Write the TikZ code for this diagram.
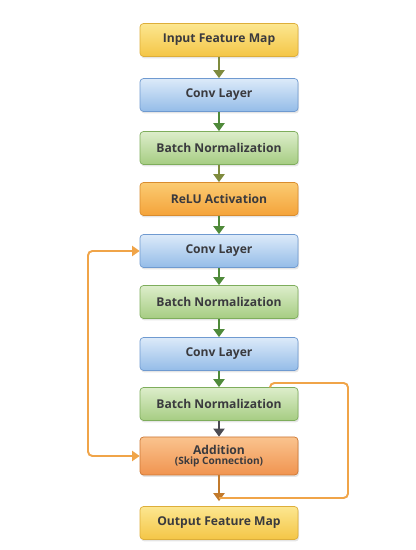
\documentclass[tikz,border=0pt]{standalone}
\usepackage{fontspec}
\setmainfont{Open Sans}
\usepackage{xcolor}
\usepackage{tikz}
\usetikzlibrary{arrows.meta}
\usetikzlibrary{positioning, shadows}
\definecolor{yellowtop}{HTML}{FCE690}
\definecolor{yellowbottom}{HTML}{F4C646}
\definecolor{yellowborder}{HTML}{DDAE3A}
\definecolor{bluetop}{HTML}{DCEAF9}
\definecolor{bluebottom}{HTML}{94BCE8}
\definecolor{blueborder}{HTML}{6F9AD0}
\definecolor{greentop}{HTML}{DDEDCB}
\definecolor{greenbottom}{HTML}{A6CD82}
\definecolor{greenborder}{HTML}{7EAD5C}
\definecolor{orangetop}{HTML}{FBCB72}
\definecolor{orangebottom}{HTML}{F4A33A}
\definecolor{orangeborder}{HTML}{D98C2E}
\definecolor{addtop}{HTML}{FAC38E}
\definecolor{addbottom}{HTML}{F09450}
\definecolor{addborder}{HTML}{CC7734}
\definecolor{textgray}{HTML}{3A3A3E}
\definecolor{olivearrow}{HTML}{7F8B3E}
\definecolor{greenarrow}{HTML}{4F8A3A}
\definecolor{grayarrow}{HTML}{4B4B52}
\definecolor{brownarrow}{HTML}{C27A2C}
\definecolor{skipline}{HTML}{F0A448}
\tikzset{
block/.style = { rectangle, draw = #1border, top color = #1top, bottom color = #1bottom, minimum width = 63.2mm, minimum height = 13.2mm, rounded corners = 4pt, line width = 0.8pt, text = textgray, font = \fontsize{13.8}{16}\selectfont\bfseries, drop shadow = {opacity = 0.2, shadow xshift = 0.4mm, shadow yshift = -0.8mm} },
flow/.style = { draw = #1, line width = 2.8pt, -{Triangle[width = 4.4mm, length = 3.2mm]} },
skip/.style = { draw = skipline, line width = 2.2pt, rounded corners = 5pt },
}

\begin{document}
\begin{tikzpicture}
      \path[use as bounding box, fill = white] (0, 0) rectangle (16.6, 22);
      \node[block = yellow] (input) at (8.76, 20.4) {Input Feature Map};
      \node[block = blue] (conv1) at (8.76, 18.2) {Conv Layer};
      \node[block = green] (bn1) at (8.76, 16.08) {Batch Normalization};
      \node[block = orange] (relu) at (8.76, 14.04) {ReLU Activation};
      \node[block = blue] (conv2) at (8.76, 11.96) {Conv Layer};
      \node[block = green] (bn2) at (8.76, 9.92) {Batch Normalization};
      \node[block = blue] (conv3) at (8.76, 7.84) {Conv Layer};
      \node[block = green] (bn3) at (8.76, 5.84) {Batch Normalization};
      \node[block = add, minimum height = 15.2mm, align = center] (add) at (8.76, 3.76) {Addition\\[-4pt]{\fontsize{11.5}{13}\selectfont(Skip Connection)}};
      \node[block = yellow] (output) at (8.76, 1.08) {Output Feature Map};
      \draw[flow = olivearrow] (input) -- (conv1);
      \draw[flow = greenarrow] (conv1) -- (bn1);
      \draw[flow = olivearrow] (bn1) -- (relu);
      \draw[flow = greenarrow] (relu) -- (conv2);
      \draw[flow = greenarrow] (conv2) -- (bn2);
      \draw[flow = greenarrow] (bn2) -- (conv3);
      \draw[flow = greenarrow] (conv3) -- (bn3);
      \draw[flow = grayarrow] (bn3) -- (add);
      \draw[flow = brownarrow, shorten > = 2mm] (add) -- (output);
      % skip paths
      \coordinate (left loop) at (3.52, 0);
      \coordinate (skip out) at (10.8, 6.5);
      \coordinate (skip in) at (8.76, 2.08);
      \draw[skip, {Triangle[width = 4mm, length = 3mm]}-{Triangle[width = 4mm, length = 3mm]}] (conv2.west) -- (conv2.west -| left loop) -- (add.west -| left loop) -- (add.west);
      \draw[skip] (skip out) -- (10.8, 6.68) -- (13.92, 6.68) -- (13.92, 2.08) -- (skip in);
    \end{tikzpicture}
\end{document}
